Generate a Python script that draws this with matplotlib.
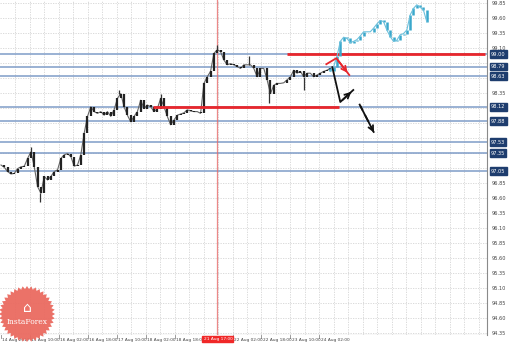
import matplotlib
matplotlib.use("Agg")
import matplotlib.pyplot as plt
from matplotlib.patches import Polygon
import numpy as np

# H1 closes, resampled one value per bar slot
closes = [97.15, 97.11, 97.04, 97.00, 97.01, 97.09, 97.12, 97.13, 97.26, 97.37,
          97.12, 96.79, 96.68, 96.96, 96.90, 96.96, 97.04, 97.07, 97.26, 97.32,
          97.34, 97.29, 97.13, 97.15, 97.32, 97.68, 97.96, 98.12, 98.04, 98.01,
          98.04, 97.98, 98.04, 97.96, 98.07, 98.26, 98.34, 98.12, 97.98, 97.87,
          97.96, 98.04, 98.23, 98.09, 98.15, 98.12, 98.04, 98.09, 98.26, 98.12,
          97.96, 97.82, 97.90, 97.98, 98.00, 98.02, 98.07, 98.05, 98.04, 98.04,
          98.01, 98.51, 98.62, 98.71, 99.01, 99.07, 99.04, 98.90, 98.82, 98.84,
          98.82, 98.79, 98.76, 98.82, 98.82, 98.82, 98.76, 98.62, 98.76, 98.76,
          98.57, 98.34, 98.48, 98.51, 98.51, 98.52, 98.57, 98.62, 98.73, 98.68,
          98.71, 98.62, 98.68, 98.68, 98.62, 98.65, 98.68, 98.71, 98.73, 98.76]

# wick extremes that stick out from the bodies: (bar, price)
wicks = [(11.7, 96.54), (9, 97.45), (35.5, 98.40), (48, 98.33), (65, 99.15),
         (74.5, 98.96), (80.5, 98.18), (91, 98.40)]

# projected path (blue bars)
proj_start = 99
projection = [98.71, 98.79, 98.96, 99.21, 99.28, 99.26, 99.19, 99.21, 99.24, 99.30,
              99.37, 99.37, 99.37, 99.43, 99.50, 99.56, 99.54, 99.40, 99.29, 99.21,
              99.23, 99.32, 99.34, 99.40, 99.65, 99.76, 99.82, 99.78, 99.73, 99.54]

levels = [99.00, 98.79, 98.63, 98.12, 97.88, 97.53, 97.35, 97.05]
level_labels = ["99.00", "98.79", "98.63", "98.12", "97.88", "97.53", "97.35", "97.05"]

# red zones: (price, bar from, bar to)
red_lines = [(99.00, 86.1, 145.5), (98.12, 45.6, 101.7)]

yticks = [99.85 - 0.25 * k for k in range(23)]

xtick_pos = [0, 8.7, 17.4, 26.1, 34.8, 43.5, 52.2, 69.6, 78.3, 87.0, 95.7]
xtick_labels = ["14 Aug 2017", "15 Aug 10:00", "16 Aug 02:00", "16 Aug 18:00",
                "17 Aug 10:00", "18 Aug 02:00", "18 Aug 18:00",
                "22 Aug 02:00", "22 Aug 18:00", "23 Aug 10:00", "24 Aug 02:00"]
cursor_bar = 64.8
cursor_label = "21 Aug 17:00"

# arrows: (bar, price) points
black_path = [(99.6, 98.78), (102.0, 98.20), (105.9, 98.40)]
dashed_path = [(107.7, 98.17), (112.5, 97.65)]
red_path = [(97.8, 98.83), (100.8, 98.93), (104.7, 98.65)]

W, H = 519, 347
fig = plt.figure(figsize=(W / 100, H / 100), dpi=100)
fig.patch.set_facecolor("white")
ax = fig.add_axes([0, 12 / H, 487 / W, 335 / H])
ax.set_xlim(-0.3, 146.1)
ax.set_ylim(99.90 - 335 / 60, 99.90)

# grid
for k in range(1, 34):
    ax.axvline(k * 4.35, color="#d4d4d4", lw=0.6, ls=(0, (1.5, 1.5)), zorder=0)
for v in yticks:
    ax.axhline(v, color="#d4d4d4", lw=0.6, ls=(0, (1.5, 1.5)), zorder=0)

# support / resistance lines
for lv in levels:
    ax.axhline(lv, color="#7f9cc8", lw=1.1, zorder=1)
for p, a, b in red_lines:
    ax.hlines(p, a, b, color="#e8262c", lw=2.0, zorder=3)

ax.axvline(cursor_bar, color="#e66a6a", lw=0.9, alpha=0.8, zorder=1.5)

# price bars
idx = np.arange(len(closes))
opens = [closes[0]] + closes[:-1]
ax.plot(idx, closes, color="#666666", lw=0.8, zorder=2)
ax.vlines(idx, opens, closes, color="#222222", lw=1.6, zorder=2)
for b, p in wicks:
    near = closes[int(round(b))]
    ax.vlines(b, min(near, p), max(near, p), color="#333333", lw=0.9, zorder=2)

pidx = np.arange(proj_start, proj_start + len(projection))
popens = [closes[-1]] + projection[:-1]
ax.vlines(pidx, popens, projection, color="#3aa8cc", lw=1.8, zorder=4)
ax.plot(pidx, projection, color="#6cc0dc", lw=0.8, zorder=4)

# arrows
def draw_path(pts, color, ls="-"):
    xs = [q[0] for q in pts]
    ys = [q[1] for q in pts]
    ax.plot(xs, ys, color=color, lw=1.3, ls=ls, zorder=5)
    ax.annotate("", xy=pts[-1], xytext=pts[-2],
                arrowprops=dict(arrowstyle="->", color=color, lw=1.3,
                                mutation_scale=9), zorder=5)

draw_path(black_path, "#111111")
draw_path(dashed_path, "#111111", ls=(0, (4, 3)))
draw_path(red_path, "#e8262c")

for s in ["top", "left", "bottom"]:
    ax.spines[s].set_visible(False)
ax.spines["right"].set_color("#8a8a8a")
ax.spines["right"].set_linewidth(0.8)
ax.set_xticks([])
ax.set_yticks([])

# right price scale
tr = ax.get_yaxis_transform()
for v in yticks:
    if any(abs(v - lv) < 0.09 for lv in levels):
        continue
    ax.text(1.01, v, f"{v:.2f}", transform=tr, fontsize=3.6, color="#444444",
            va="center", ha="left", clip_on=False)
for lv, lab in zip(levels, level_labels):
    ax.text(1.008, lv, lab, transform=tr, fontsize=3.6, color="white",
            va="center", ha="left", clip_on=False,
            bbox=dict(boxstyle="square,pad=0.25", fc="#1e3d6e", ec="#1e3d6e"))

# bottom time scale
xtr = ax.get_xaxis_transform()
for pos, lab in zip(xtick_pos, xtick_labels):
    ax.text(pos + 0.4, -0.008, lab, transform=xtr, fontsize=3.1, color="#444444",
            va="top", ha="left", clip_on=False)
    ax.plot([pos, pos], [0, -0.008], transform=xtr, color="#8a8a8a", lw=0.6,
            clip_on=False)
ax.axhline(ax.get_ylim()[0], color="#8a8a8a", lw=0.8)
ax.text(cursor_bar + 0.4, -0.006, cursor_label, transform=xtr, fontsize=3.1,
        color="white", va="top", ha="center", clip_on=False,
        bbox=dict(boxstyle="square,pad=0.25", fc="#f02828", ec="#f02828"))

# InstaForex badge
n = 40
ang = np.linspace(0, 2 * np.pi, 2 * n, endpoint=False)
rad = np.where(np.arange(2 * n) % 2 == 0, 28, 25)
cx, cy = 27, H - 314
star = np.column_stack([cx + rad * np.cos(ang), cy + rad * np.sin(ang)])
fig.patches.append(Polygon(star, closed=True, transform=None, fc="#ea6a60",
                           ec="none", alpha=0.95, zorder=10))
fig.text(cx / W, (cy - 8) / H, "InstaForex", fontsize=5.5, color="white",
         ha="center", va="center", family="DejaVu Serif", zorder=11)
fig.text(cx / W, (cy + 6) / H, "\u2302", fontsize=10, color="white",
         ha="center", va="center", zorder=11)

fig.savefig("out.png", dpi=100)
